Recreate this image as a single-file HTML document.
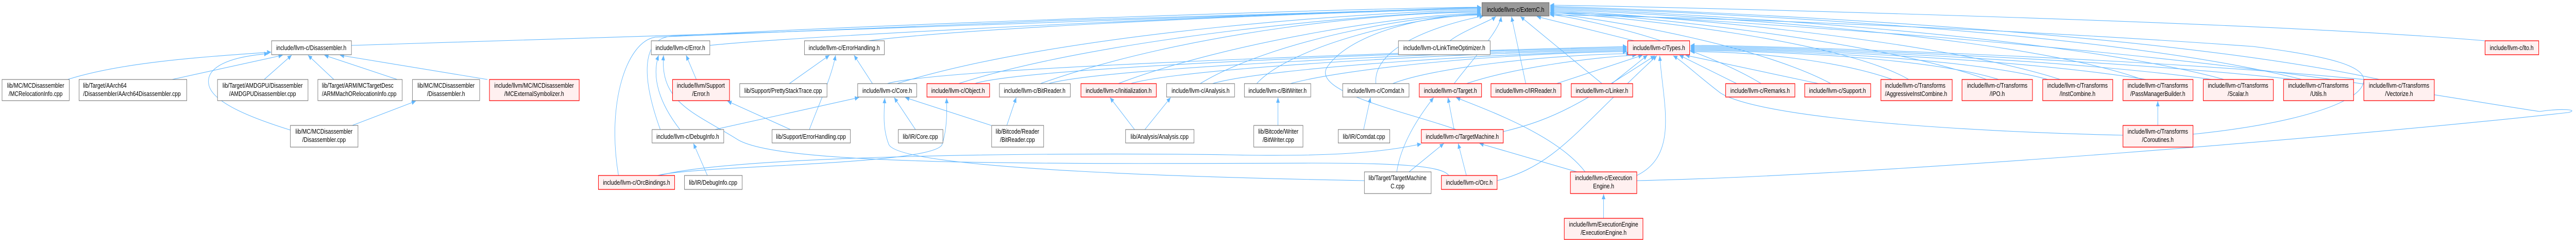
<!DOCTYPE html>
<html><head><meta charset="utf-8"><style>
html,body{margin:0;padding:0;background:#fff;overflow:hidden;width:100%;height:100%;}
svg{display:block;width:100vw;height:100vh;}
text{font-family:"Liberation Sans",Arial,sans-serif;font-size:13px;fill:#000;}
.w{fill:#fff;stroke:#666;stroke-width:1;}
.r{fill:#fff0f0;stroke:#ff0000;stroke-width:1.3;}
.g{fill:#999;stroke:#666;stroke-width:1;}
.e{fill:none;stroke:#63b8ff;stroke-width:1.1;marker-end:url(#a);}
</style></head><body>
<svg viewBox="0 0 6289 465" preserveAspectRatio="none" xmlns="http://www.w3.org/2000/svg">
<defs><marker id="a" markerUnits="userSpaceOnUse" markerWidth="10" markerHeight="9" refX="10" refY="4.5" orient="auto"><path d="M0,0 L10,4.5 L0,9 z" fill="#63b8ff"/></marker></defs>
<g>
<path class="e" d="M858,88 C1800,70 3400,14 3616,14"/>
<path class="e" d="M1733,88 C2000,65 3400,16 3616,16"/>
<path class="e" d="M2120,79 C2400,50 3400,18 3616,18"/>
<path class="e" d="M1510,340 C1480,200 1530,80 1600,72 C2000,55 3400,15 3616,15"/>
<path class="e" d="M1612,251 C1570,160 1560,75 1640,70 C2200,45 3400,14 3616,14"/>
<path class="e" d="M2190,162 C2600,60 3400,20 3616,20"/>
<path class="e" d="M2340,162 C2700,70 3400,22 3616,22"/>
<path class="e" d="M2540,162 C2900,60 3400,22 3616,24"/>
<path class="e" d="M2730,162 C3000,80 3450,26 3616,26"/>
<path class="e" d="M2930,162 C3100,80 3450,28 3616,28"/>
<path class="e" d="M3068,162 C3150,90 3450,30 3616,29"/>
<path class="e" d="M3359,162 C3350,80 3560,40 3622,31"/>
<path class="e" d="M3540,79 C3570,60 3640,40 3652,32"/>
<path class="e" d="M3550,162 C3600,110 3660,60 3665,32"/>
<path class="e" d="M3725,162 L3690,32"/>
<path class="e" d="M3911,162 L3712,32"/>
<path class="e" d="M3555,251 C3450,220 3200,180 3240,130 C3300,60 3500,28 3616,27"/>
<path class="e" d="M3990,79 L3752,32"/>
<path class="e" d="M4300,162 C4150,90 3900,40 3784,28"/>
<path class="e" d="M4470,162 C4300,90 3950,40 3784,26"/>
<path class="e" d="M4660,154 C4500,80 4000,35 3784,24"/>
<path class="e" d="M4850,154 C4600,80 4000,30 3784,22"/>
<path class="e" d="M5030,154 C4700,70 4000,28 3784,20"/>
<path class="e" d="M5230,154 C4900,60 4000,25 3784,18"/>
<path class="e" d="M5430,154 C5000,60 4000,22 3784,16"/>
<path class="e" d="M5620,154 C5100,50 4000,20 3784,14"/>
<path class="e" d="M5810,154 C5200,50 4000,18 3784,12"/>
<path class="e" d="M6067,79 C5500,40 4000,12 3784,10"/>
<path class="e" d="M3996,350 C4600,340 5800,260 6270,218 C6300,212 6250,210 6200,216 C5900,180 5600,130 4700,70 C4200,40 3900,25 3784,25"/>
<path class="e" d="M5354,260 C5600,240 5760,200 5770,160 C5780,130 5700,110 5500,90 C4800,50 4000,30 3784,29"/>
<path class="e" d="M2166,162 C2300,130 3500,100 3972,90"/>
<path class="e" d="M2380,162 C2500,130 3500,100 3972,92"/>
<path class="e" d="M2560,162 C2700,130 3600,100 3972,94"/>
<path class="e" d="M2760,162 C2900,130 3600,102 3972,96"/>
<path class="e" d="M2960,162 C3100,130 3700,102 3972,98"/>
<path class="e" d="M3150,162 C3300,130 3700,102 3972,100"/>
<path class="e" d="M3400,162 C3500,130 3800,105 3980,104"/>
<path class="e" d="M3580,162 C3700,130 3900,110 3995,107"/>
<path class="e" d="M3800,162 L4010,107"/>
<path class="e" d="M3935,162 L4022,107"/>
<path class="e" d="M3670,255 C3800,230 3860,200 4040,108"/>
<path class="e" d="M3655,350 C3800,320 3850,250 4045,108"/>
<path class="e" d="M3996,340 C4100,300 4060,200 4052,108"/>
<path class="e" d="M5183,262 C4800,255 4300,230 4200,180 C4150,150 4110,120 4085,108"/>
<path class="e" d="M4240,162 L4100,107"/>
<path class="e" d="M4440,162 L4115,107"/>
<path class="e" d="M4620,154 C4500,120 4300,100 4127,100"/>
<path class="e" d="M4880,154 C4700,110 4300,98 4127,98"/>
<path class="e" d="M5000,154 C4800,110 4300,96 4127,96"/>
<path class="e" d="M5240,154 C4900,110 4300,94 4127,94"/>
<path class="e" d="M5400,154 C5000,110 4300,92 4127,92"/>
<path class="e" d="M5600,154 C5100,110 4300,90 4127,90"/>
<path class="e" d="M5771,154 C5200,110 4300,88 4127,88"/>
<path class="e" d="M165,154 C300,120 500,110 662,101"/>
<path class="e" d="M420,154 L690,107"/>
<path class="e" d="M645,154 L712,107"/>
<path class="e" d="M815,154 L752,107"/>
<path class="e" d="M970,154 L792,107"/>
<path class="e" d="M1190,154 L830,107"/>
<path class="e" d="M709,252 C620,230 520,200 510,165 C500,130 560,110 655,104"/>
<path class="e" d="M860,243 L1015,196"/>
<path class="e" d="M1700,154 L1675,107"/>
<path class="e" d="M1660,251 C1610,200 1590,150 1608,107"/>
<path class="e" d="M3537,340 C3520,320 3400,316 3200,316 C2500,318 1900,320 1800,270 C1700,220 1610,200 1620,107"/>
<path class="e" d="M1927,162 L2025,107"/>
<path class="e" d="M1976,251 C2000,200 2030,150 2040,107"/>
<path class="e" d="M2130,162 L2085,107"/>
<path class="e" d="M1930,251 L1776,196"/>
<path class="e" d="M2235,251 L2183,189"/>
<path class="e" d="M2420,243 L2210,189"/>
<path class="e" d="M1745,251 L2097,189"/>
<path class="e" d="M3331,350 C3000,345 2200,330 2170,280 C2155,250 2158,220 2160,190"/>
<path class="e" d="M1605,340 C1700,320 2280,320 2300,280 C2312,250 2312,220 2311,190"/>
<path class="e" d="M1610,340 C1800,300 2600,295 3000,300 C3300,305 3400,290 3470,279"/>
<path class="e" d="M2458,243 L2481,189"/>
<path class="e" d="M2770,251 L2710,189"/>
<path class="e" d="M2795,251 L2858,189"/>
<path class="e" d="M3120,243 L3120,189"/>
<path class="e" d="M1727,340 L1693,278"/>
<path class="e" d="M3329,251 L3346,189"/>
<path class="e" d="M3410,333 C3420,280 3460,230 3500,189"/>
<path class="e" d="M3550,251 L3535,189"/>
<path class="e" d="M3870,333 C3800,260 3620,210 3555,189"/>
<path class="e" d="M3440,333 L3525,278"/>
<path class="e" d="M3580,340 L3560,278"/>
<path class="e" d="M3850,333 L3612,278"/>
<path class="e" d="M3915,423 L3915,376"/>
<path class="e" d="M5268,243 L5268,196"/>
</g>
<g>
<rect class="g" x="3618" y="5" width="164" height="26"/><text x="3700" y="23" text-anchor="middle">include/llvm-c/ExternC.h</text>
<rect class="w" x="663" y="79" width="195" height="27"/><text x="760" y="97" text-anchor="middle">include/llvm-c/Disassembler.h</text>
<rect class="w" x="1590" y="79" width="143" height="27"/><text x="1661" y="97" text-anchor="middle">include/llvm-c/Error.h</text>
<rect class="w" x="1964" y="79" width="195" height="27"/><text x="2061" y="97" text-anchor="middle">include/llvm-c/ErrorHandling.h</text>
<rect class="w" x="3414" y="79" width="224" height="27"/><text x="3526" y="97" text-anchor="middle">include/llvm-c/LinkTimeOptimizer.h</text>
<rect class="r" x="3974" y="79" width="151" height="27"/><text x="4050" y="97" text-anchor="middle">include/llvm-c/Types.h</text>
<rect class="r" x="6067" y="79" width="131" height="27"/><text x="6132" y="97" text-anchor="middle">include/llvm-c/lto.h</text>
<rect class="w" x="5" y="154" width="164" height="41"/><text x="87" y="170" text-anchor="middle">lib/MC/MCDisassembler</text><text x="87" y="186" text-anchor="middle">/MCRelocationInfo.cpp</text>
<rect class="w" x="193" y="154" width="263" height="41"/><text x="203" y="170">lib/Target/AArch64</text><text x="203" y="186">/Disassembler/AArch64Disassembler.cpp</text>
<rect class="w" x="531" y="154" width="221" height="41"/><text x="641" y="170" text-anchor="middle">lib/Target/AMDGPU/Disassembler</text><text x="641" y="186" text-anchor="middle">/AMDGPUDisassembler.cpp</text>
<rect class="w" x="776" y="154" width="206" height="41"/><text x="786" y="170">lib/Target/ARM/MCTargetDesc</text><text x="786" y="186">/ARMMachORelocationInfo.cpp</text>
<rect class="w" x="1007" y="154" width="164" height="41"/><text x="1089" y="170" text-anchor="middle">lib/MC/MCDisassembler</text><text x="1089" y="186" text-anchor="middle">/Disassembler.h</text>
<rect class="r" x="1195" y="154" width="219" height="41"/><text x="1304" y="170" text-anchor="middle">include/llvm/MC/MCDisassembler</text><text x="1304" y="186" text-anchor="middle">/MCExternalSymbolizer.h</text>
<rect class="r" x="1642" y="154" width="139" height="41"/><text x="1711" y="170" text-anchor="middle">include/llvm/Support</text><text x="1711" y="186" text-anchor="middle">/Error.h</text>
<rect class="w" x="1806" y="162" width="213" height="26"/><text x="1912" y="180" text-anchor="middle">lib/Support/PrettyStackTrace.cpp</text>
<rect class="w" x="2094" y="162" width="144" height="26"/><text x="2166" y="180" text-anchor="middle">include/llvm-c/Core.h</text>
<rect class="r" x="2263" y="162" width="153" height="26"/><text x="2339" y="180" text-anchor="middle">include/llvm-c/Object.h</text>
<rect class="w" x="2440" y="162" width="173" height="26"/><text x="2526" y="180" text-anchor="middle">include/llvm-c/BitReader.h</text>
<rect class="r" x="2639" y="162" width="184" height="26"/><text x="2731" y="180" text-anchor="middle">include/llvm-c/Initialization.h</text>
<rect class="w" x="2848" y="162" width="166" height="26"/><text x="2931" y="180" text-anchor="middle">include/llvm-c/Analysis.h</text>
<rect class="w" x="3038" y="162" width="162" height="26"/><text x="3119" y="180" text-anchor="middle">include/llvm-c/BitWriter.h</text>
<rect class="w" x="3278" y="162" width="162" height="26"/><text x="3359" y="180" text-anchor="middle">include/llvm-c/Comdat.h</text>
<rect class="r" x="3465" y="162" width="152" height="26"/><text x="3541" y="180" text-anchor="middle">include/llvm-c/Target.h</text>
<rect class="r" x="3640" y="162" width="171" height="26"/><text x="3725" y="180" text-anchor="middle">include/llvm-c/IRReader.h</text>
<rect class="r" x="3836" y="162" width="150" height="26"/><text x="3911" y="180" text-anchor="middle">include/llvm-c/Linker.h</text>
<rect class="r" x="4213" y="162" width="169" height="26"/><text x="4297" y="180" text-anchor="middle">include/llvm-c/Remarks.h</text>
<rect class="r" x="4406" y="162" width="161" height="26"/><text x="4486" y="180" text-anchor="middle">include/llvm-c/Support.h</text>
<rect class="r" x="4592" y="154" width="174" height="41"/><text x="4602" y="170">include/llvm-c/Transforms</text><text x="4602" y="186">/AggressiveInstCombine.h</text>
<rect class="r" x="4790" y="154" width="172" height="41"/><text x="4876" y="170" text-anchor="middle">include/llvm-c/Transforms</text><text x="4876" y="186" text-anchor="middle">/IPO.h</text>
<rect class="r" x="4987" y="154" width="171" height="41"/><text x="5072" y="170" text-anchor="middle">include/llvm-c/Transforms</text><text x="5072" y="186" text-anchor="middle">/InstCombine.h</text>
<rect class="r" x="5183" y="154" width="171" height="41"/><text x="5268" y="170" text-anchor="middle">include/llvm-c/Transforms</text><text x="5268" y="186" text-anchor="middle">/PassManagerBuilder.h</text>
<rect class="r" x="5379" y="154" width="171" height="41"/><text x="5464" y="170" text-anchor="middle">include/llvm-c/Transforms</text><text x="5464" y="186" text-anchor="middle">/Scalar.h</text>
<rect class="r" x="5575" y="154" width="171" height="41"/><text x="5660" y="170" text-anchor="middle">include/llvm-c/Transforms</text><text x="5660" y="186" text-anchor="middle">/Utils.h</text>
<rect class="r" x="5771" y="154" width="172" height="41"/><text x="5857" y="170" text-anchor="middle">include/llvm-c/Transforms</text><text x="5857" y="186" text-anchor="middle">/Vectorize.h</text>
<rect class="w" x="709" y="243" width="165" height="42"/><text x="791" y="259" text-anchor="middle">lib/MC/MCDisassembler</text><text x="791" y="275" text-anchor="middle">/Disassembler.cpp</text>
<rect class="w" x="1592" y="251" width="175" height="26"/><text x="1679" y="269" text-anchor="middle">include/llvm-c/DebugInfo.h</text>
<rect class="w" x="1885" y="251" width="191" height="26"/><text x="1980" y="269" text-anchor="middle">lib/Support/ErrorHandling.cpp</text>
<rect class="w" x="2193" y="251" width="109" height="26"/><text x="2247" y="269" text-anchor="middle">lib/IR/Core.cpp</text>
<rect class="w" x="2421" y="243" width="127" height="42"/><text x="2484" y="259" text-anchor="middle">lib/Bitcode/Reader</text><text x="2484" y="275" text-anchor="middle">/BitReader.cpp</text>
<rect class="w" x="2748" y="251" width="167" height="26"/><text x="2831" y="269" text-anchor="middle">lib/Analysis/Analysis.cpp</text>
<rect class="w" x="3061" y="243" width="120" height="42"/><text x="3121" y="259" text-anchor="middle">lib/Bitcode/Writer</text><text x="3121" y="275" text-anchor="middle">/BitWriter.cpp</text>
<rect class="w" x="3267" y="251" width="126" height="26"/><text x="3330" y="269" text-anchor="middle">lib/IR/Comdat.cpp</text>
<rect class="r" x="3470" y="251" width="200" height="26"/><text x="3570" y="269" text-anchor="middle">include/llvm-c/TargetMachine.h</text>
<rect class="r" x="5183" y="243" width="171" height="42"/><text x="5268" y="259" text-anchor="middle">include/llvm-c/Transforms</text><text x="5268" y="275" text-anchor="middle">/Coroutines.h</text>
<rect class="r" x="1461" y="340" width="186" height="27"/><text x="1554" y="358" text-anchor="middle">include/llvm-c/OrcBindings.h</text>
<rect class="w" x="1671" y="340" width="141" height="27"/><text x="1741" y="358" text-anchor="middle">lib/IR/DebugInfo.cpp</text>
<rect class="w" x="3331" y="333" width="163" height="42"/><text x="3412" y="349" text-anchor="middle">lib/Target/TargetMachine</text><text x="3412" y="365" text-anchor="middle">C.cpp</text>
<rect class="r" x="3519" y="340" width="136" height="27"/><text x="3587" y="358" text-anchor="middle">include/llvm-c/Orc.h</text>
<rect class="r" x="3834" y="333" width="162" height="42"/><text x="3915" y="349" text-anchor="middle">include/llvm-c/Execution</text><text x="3915" y="365" text-anchor="middle">Engine.h</text>
<rect class="r" x="3819" y="423" width="192" height="41"/><text x="3915" y="439" text-anchor="middle">include/llvm/ExecutionEngine</text><text x="3915" y="455" text-anchor="middle">/ExecutionEngine.h</text>
</g>
</svg>
</body></html>
